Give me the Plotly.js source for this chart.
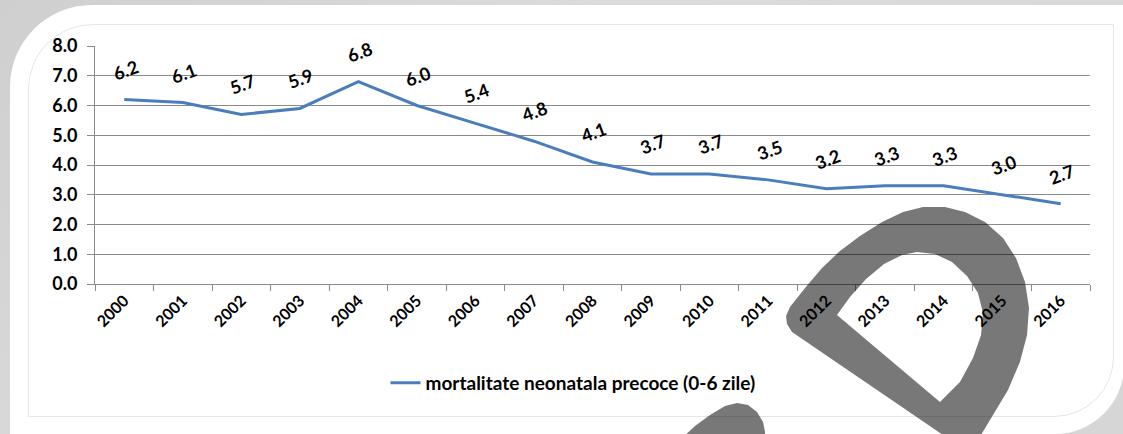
<!DOCTYPE html>
<html>
<head>
<meta charset="utf-8">
<script src="https://cdn.plot.ly/plotly-3.0.1.min.js"></script>
<style>
  html, body { margin:0; padding:0; }
  body { width:1123px; height:434px; overflow:hidden; position:relative;
         background: linear-gradient(135deg, #cfcfcf 0%, #dcdcdc 40%, #d6d6d6 100%); }
  #card { position:absolute; left:10px; top:5px; width:1114px; height:429px; background:#fff;
          border-radius: 82px 0 69px 0; }
  #inner { position:absolute; left:28px; top:24px; width:1084px; height:391px;
           border:1px solid #e6e6e6; border-radius: 65px 0 60px 0; }
  #chart { position:absolute; left:0; top:0; width:1123px; height:434px; }
</style>
</head>
<body>
<div id="card"></div>
<div id="inner"></div>
<div id="chart"></div>
<script>
// ---- data ----
const years = ["2000","2001","2002","2003","2004","2005","2006","2007","2008","2009","2010","2011","2012","2013","2014","2015","2016"];
const mortalitate = [6.2, 6.1, 5.7, 5.9, 6.8, 6.0, 5.4, 4.8, 4.1, 3.7, 3.7, 3.5, 3.2, 3.3, 3.3, 3.0, 2.7];
const seriesName = "mortalitate neonatala precoce (0-6 zile)";
const yTicks = [0,1,2,3,4,5,6,7,8];

// ---- layout geometry ----
const W = 1123, H = 434;
const M = {l:95, r:33, t:46, b:150};
const PW = W - M.l - M.r, PH = H - M.t - M.b;
const FONT = "Lato, 'Open Sans', sans-serif";

// pixel -> paper for decorative overlay path
function pp(pts){
  return pts.map((p,i)=>(i===0?'M':'L') + ((p[0]-M.l)/PW).toFixed(4) + ',' + ((H-M.b-p[1])/PH).toFixed(4)).join(' ') + ' Z';
}
const dOuter = [[792,332],[787,324],[786,316],[790,307],[805,288],[822,268],[840,251],[860,236],[882,222],[903,212],[923,207],[945,207],[965,212],[985,222],[1003,238],[1016,258],[1025,282],[1029,308],[1027,335],[1020,362],[1008,390],[993,415],[978,440],[962,448]];
const dInner = [[837,315],[850,297],[866,279],[884,264],[902,255],[917,252],[935,254],[952,262],[967,276],[978,293],[983,313],[981,335],[973,358],[960,382],[940,402]];
const blob = [[680,440],[695,426],[710,415],[725,406],[737,403],[748,405],[757,412],[763,422],[765,432],[765,440]];

const trace = {
  type:'scatter', mode:'lines', x: years, y: mortalitate, name: seriesName,
  line:{color:'rgb(74,126,187)', width:3}, showlegend:true
};

const annotations = years.map((yr,i)=>({
  x: i, y: mortalitate[i], xref:'x', yref:'y', text: mortalitate[i].toFixed(1),
  showarrow:false, yshift:30, xshift:1, textangle:-20,
  font:{family:FONT, size:18, color:'#000', weight:'bold'}
}));

const layout = {
  width:W, height:H, margin:M,
  paper_bgcolor:'rgba(0,0,0,0)', plot_bgcolor:'rgba(0,0,0,0)',
  font:{family:FONT, color:'#000', weight:'bold'},
  xaxis:{ type:'category', range:[-0.5, years.length-0.5], tickson:'boundaries',
    ticks:'outside', ticklen:6, tickcolor:'#8a8a8a', showline:true, linecolor:'#8a8a8a', linewidth:1,
    showgrid:false, tickangle:-45, tickfont:{family:FONT, size:16, weight:'bold', color:'#000'}, fixedrange:true },
  yaxis:{ range:[0,8], tickvals:yTicks, tickformat:'.1f', ticks:'outside', ticklen:7, tickcolor:'#8a8a8a',
    showline:true, linecolor:'#8a8a8a', linewidth:1, showgrid:true, gridcolor:'#8a8a8a', gridwidth:1,
    zeroline:false, ticklabelstandoff:6, tickfont:{family:FONT, size:18, weight:'bold', color:'#000'}, fixedrange:true },
  legend:{ orientation:'h', xref:'container', yref:'container', x:573/W, y:1-383/H, xanchor:'center', yanchor:'middle',
    font:{family:FONT, size:19, weight:'bold', color:'#000'}, bgcolor:'rgba(0,0,0,0)' },
  annotations: annotations,
  shapes:[
    {type:'path', xref:'paper', yref:'paper', layer:'above', fillrule:'evenodd',
     path: pp(dOuter) + ' ' + pp(dInner), fillcolor:'rgba(0,0,0,0.53)', line:{width:0}},
    {type:'path', xref:'paper', yref:'paper', layer:'above',
     path: pp(blob), fillcolor:'rgba(0,0,0,0.53)', line:{width:0}}
  ]
};

Plotly.newPlot('chart', [trace], layout, {displayModeBar:false, staticPlot:true});
</script>
</body>
</html>
